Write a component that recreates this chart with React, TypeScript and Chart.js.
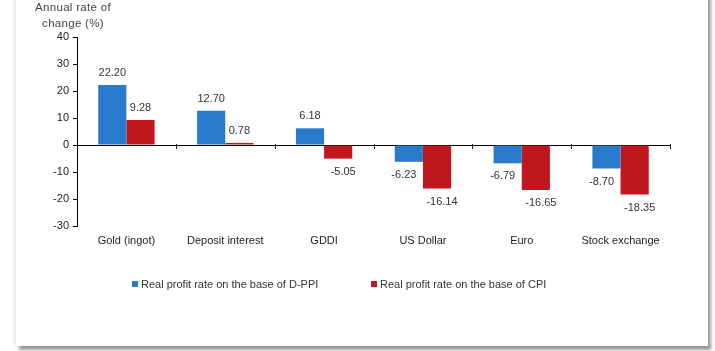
import React, { useEffect, useRef } from "react";
import { Chart, registerables } from "chart.js";

Chart.register(...registerables);

const categories = ["Gold (ingot)", "Deposit interest", "GDDI", "US Dollar", "Euro", "Stock exchange"];
const dppiValues = [22.2, 12.7, 6.18, -6.23, -6.79, -8.7];
const cpiValues = [9.28, 0.78, -5.05, -16.14, -16.65, -18.35];
const seriesNames = ["Real profit rate on the base of D-PPI", "Real profit rate on the base of CPI"];
const seriesColors = ["#2A7ACC", "#C0161D"];
const yMin = -30;
const yMax = 40;
const yStep = 10;
const axisTitleLines = ["Annual rate of", "change (%)"];

const FONT = '"Liberation Sans", Arial, sans-serif';

const labelPlugin = {
  id: "valueLabels",
  afterDatasetsDraw(chart: any) {
    const ctx = chart.ctx;
    ctx.save();
    ctx.font = `11px ${FONT}`;
    ctx.fillStyle = "#333";
    ctx.textAlign = "center";
    ctx.textBaseline = "middle";
    chart.data.datasets.forEach((ds: any, di: number) => {
      const meta = chart.getDatasetMeta(di);
      meta.data.forEach((bar: any, i: number) => {
        const v = ds.data[i];
        const neg = v < 0;
        const x = bar.x + (neg ? (di === 0 ? -5 : 5) : 0);
        const y = neg ? bar.y + 13 : bar.y - 12;
        ctx.fillText(v.toFixed(2), x, y);
      });
    });
    // category separator ticks on the zero line
    const xs = chart.scales.x;
    const y0 = chart.scales.y.getPixelForValue(0);
    ctx.strokeStyle = "#222";
    ctx.lineWidth = 1;
    for (let i = 0; i < categories.length; i++) {
      const x = Math.round(xs.getPixelForValue(i + 0.5)) + 0.5;
      ctx.beginPath();
      ctx.moveTo(x, y0 - 1);
      ctx.lineTo(x, y0 + 4);
      ctx.stroke();
    }
    ctx.restore();
  },
};

export default function App() {
  const canvasRef = useRef<HTMLCanvasElement | null>(null);

  useEffect(() => {
    if (!canvasRef.current) return;
    const chart = new Chart(canvasRef.current, {
      type: "bar",
      data: {
        labels: categories,
        datasets: [
          { label: seriesNames[0], data: dppiValues, backgroundColor: seriesColors[0], borderWidth: 0 },
          { label: seriesNames[1], data: cpiValues, backgroundColor: seriesColors[1], borderWidth: 0 },
        ],
      },
      options: {
        responsive: false,
        animation: false,
        devicePixelRatio: 1,
        layout: { padding: { top: 37, left: 0, right: 45, bottom: 95 } },
        datasets: { bar: { categoryPercentage: 0.57, barPercentage: 1 } },
        plugins: { legend: { display: false }, tooltip: { enabled: false }, title: { display: false } },
        scales: {
          x: {
            grid: { display: false, drawTicks: false },
            border: { display: false },
            ticks: { font: { size: 11, family: FONT }, color: "#222", padding: 8, maxRotation: 0, autoSkip: false },
            afterFit: (s: any) => { s.height = 30; },
          },
          y: {
            min: yMin,
            max: yMax,
            ticks: { stepSize: yStep, font: { size: 11, family: FONT }, color: "#222", padding: 4 },
            grid: {
              color: (c: any) => (c.tick && c.tick.value === 0 ? "#000" : "rgba(0,0,0,0)"),
              tickColor: "#000",
              tickLength: 4,
            },
            border: { display: true, color: "#000", width: 1 },
            afterFit: (s: any) => { s.width = 77; },
          },
        },
      },
      plugins: [labelPlugin],
    });
    return () => chart.destroy();
  }, []);

  const textStyle: React.CSSProperties = { fontFamily: FONT, fontSize: 11, color: "#333" };

  return (
    <div style={{ position: "absolute", left: 0, top: 0, width: 715, height: 351, background: "#fff", overflow: "hidden" }}>
      <div
        style={{
          position: "absolute",
          left: 16,
          top: -10,
          width: 692,
          height: 356,
          background: "#fff",
          boxShadow: "3px 4px 3px rgba(0,0,0,0.4), -2px 0px 3px rgba(0,0,0,0.08)",
        }}
      />
      <canvas ref={canvasRef} width={715} height={351} style={{ position: "absolute", left: 0, top: 0, width: 715, height: 351 }} />
      <div
        style={{
          ...textStyle,
          color: "#444",
          fontSize: 11.5,
          position: "absolute",
          left: 23,
          top: -1,
          width: 100,
          textAlign: "center",
          lineHeight: "16px",
          letterSpacing: 0.3,
        }}
      >
        {axisTitleLines.map((l) => (
          <div key={l}>{l}</div>
        ))}
      </div>
      {seriesNames.map((name, i) => (
        <div
          key={name}
          style={{
            ...textStyle,
            position: "absolute",
            left: i === 0 ? 132 : 371,
            top: 277,
            lineHeight: "14px",
            whiteSpace: "nowrap",
            display: "flex",
            alignItems: "center",
          }}
        >
          <span style={{ display: "inline-block", width: 6, height: 6, background: seriesColors[i], marginRight: 3 }} />
          <span>{name}</span>
        </div>
      ))}
    </div>
  );
}
